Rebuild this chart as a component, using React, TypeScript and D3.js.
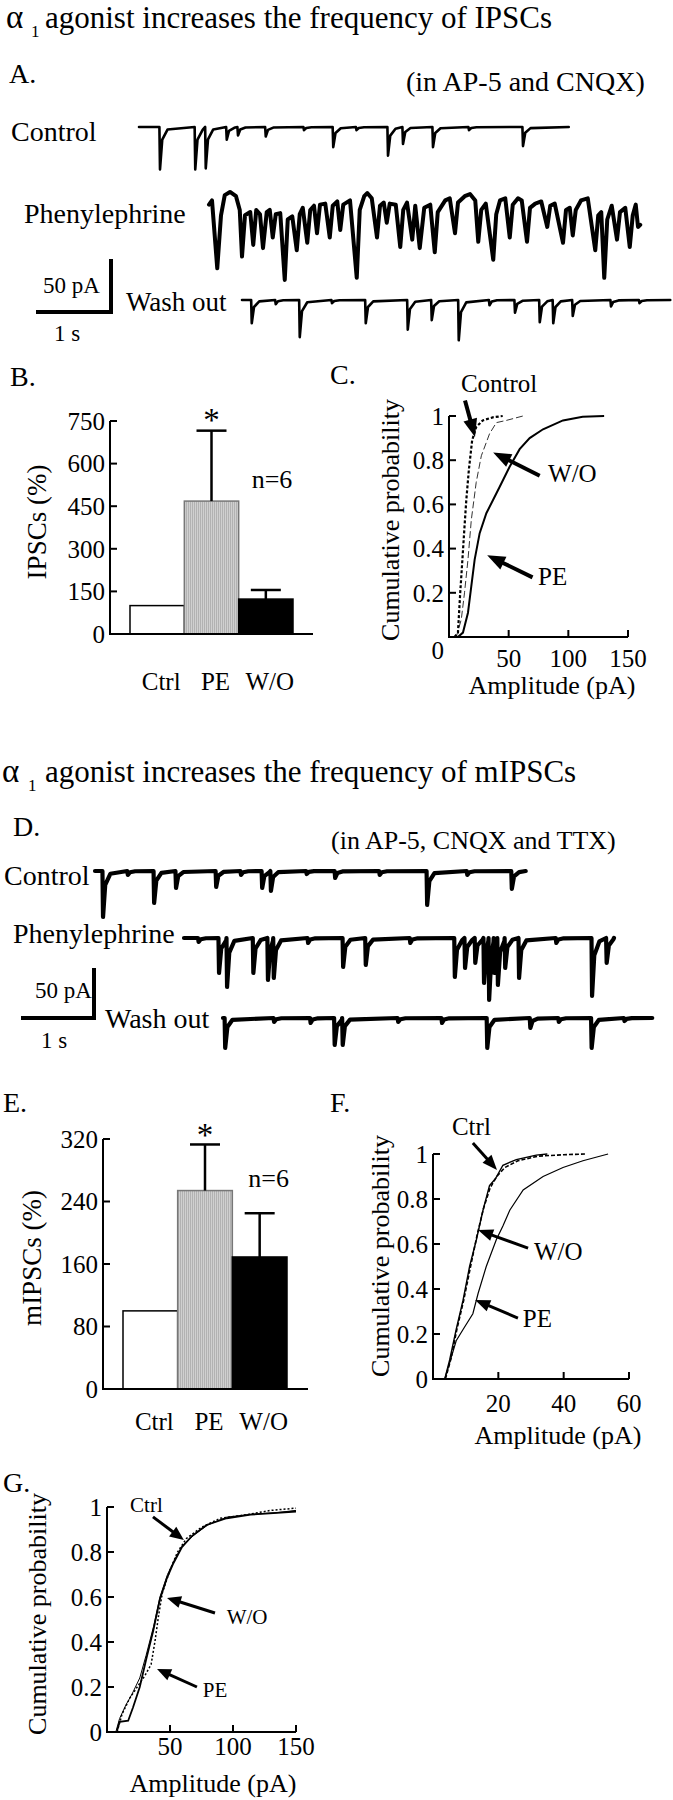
import React from 'react';
import * as d3 from 'd3';

const FONT = '"Liberation Serif", "Times New Roman", serif';

// ---------- Panel A traces: [time s, amplitude pA] ----------
const ctrlAEvents: [number, number][] = [
  [0.28, 40], [0.75, 40], [0.89, 39], [1.17, 12], [1.32, 8], [1.69, 9], [2.2, 3],
  [2.59, 19], [2.9, 3], [3.32, 27], [3.52, 16], [3.92, 19], [4.4, 3], [5.12, 18],
];
const ctrlAEnd = 5.73;

const peATrace: [number, number][] = [
  [0, -11], [0.04, -7], [0.11, -71], [0.16, -21], [0.21, -2], [0.28, 1], [0.36, -3], [0.41, -16],
  [0.44, -60], [0.48, -21], [0.55, -18], [0.59, -49], [0.63, -16], [0.68, -20], [0.72, -52],
  [0.77, -18], [0.81, -16], [0.85, -42], [0.89, -20], [0.95, -19], [1.01, -82], [1.05, -25],
  [1.11, -22], [1.17, -54], [1.21, -20], [1.25, -14], [1.31, -47], [1.35, -16], [1.4, -12],
  [1.44, -38], [1.48, -11], [1.55, -10], [1.61, -42], [1.65, -12], [1.71, -8], [1.75, -35],
  [1.79, -11], [1.88, -7], [1.97, -80], [2.01, -16], [2.07, -3], [2.11, 0], [2.17, -5],
  [2.24, -42], [2.28, -12], [2.33, -9], [2.37, -28], [2.41, -10], [2.49, -11], [2.55, -51],
  [2.59, -16], [2.64, -9], [2.71, -44], [2.75, -12], [2.81, -52], [2.87, -14], [2.95, -11],
  [3.01, -56], [3.05, -18], [3.15, -7], [3.21, -5], [3.28, -38], [3.32, -9], [3.41, -3],
  [3.48, -1], [3.55, -7], [3.59, -46], [3.63, -16], [3.69, -10], [3.79, -63], [3.83, -20],
  [3.88, -7], [3.95, -5], [4.01, -42], [4.05, -11], [4.12, -5], [4.17, -7], [4.24, -46],
  [4.28, -14], [4.35, -10], [4.43, -8], [4.51, -32], [4.55, -12], [4.61, -10], [4.72, -47],
  [4.76, -16], [4.81, -14], [4.85, -40], [4.89, -16], [4.96, -7], [5.05, -5], [5.15, -54],
  [5.19, -21], [5.23, -18], [5.27, -80], [5.31, -25], [5.37, -12], [5.44, -44], [5.48, -18],
  [5.55, -14], [5.61, -51], [5.65, -21], [5.69, -11], [5.72, -32], [5.75, -30],
];

const washAEvents: [number, number][] = [
  [0.13, 22], [0.45, 4], [0.77, 35], [1.2, 3], [1.65, 22], [2.21, 28], [2.53, 19], [2.89, 38],
  [3.3, 5], [3.64, 12], [3.97, 21], [4.15, 22], [4.41, 15], [4.92, 6], [5.3, 3],
];
const washAEnd = 5.71;

// ---------- Panel D traces ----------
const ctrlDEvents: [number, number][] = [
  [0.11, 46], [0.45, 4], [0.81, 32], [1.11, 17], [1.66, 16], [2.0, 4], [2.29, 17], [2.41, 20],
  [2.9, 3], [3.29, 7], [3.9, 4], [4.55, 34], [5.1, 4], [5.71, 18],
];
const ctrlDEnd = 5.9;

const peDEvents: [number, number][] = [
  [0.2, 4], [0.48, 35], [0.59, 49], [0.95, 35], [1.15, 42], [1.23, 40], [1.7, 5], [2.18, 29],
  [2.49, 27], [3.1, 5], [3.71, 39], [3.85, 30], [3.99, 25], [4.11, 45], [4.18, 62], [4.25, 35],
  [4.3, 47], [4.4, 30], [4.59, 40], [5.1, 5], [5.59, 58], [5.79, 25],
];
const peDEnd = 5.89;

const washDEvents: [number, number][] = [
  [0.03, 30], [0.7, 4], [1.2, 5], [1.53, 27], [1.64, 27], [2.4, 4], [3.0, 5], [3.62, 30],
  [4.21, 10], [4.6, 4], [5.05, 30], [5.5, 3],
];
const washDEnd = 5.88;

// ---------- Bar charts ----------
const categories = ['Ctrl', 'PE', 'W/O'];
const ipscMeans = [100, 468, 123];
const ipscErrs = [0, 248, 32];
const ipscTicks = [0, 150, 300, 450, 600, 750];

const mipscMeans = [100, 254, 169];
const mipscErrs = [0, 59, 56];
const mipscTicks = [0, 80, 160, 240, 320];

// ---------- Cumulative probability curves: [amplitude pA, probability] ----------
const cControl: [number, number][] = [
  [4.7, 0], [7.5, 0.02], [9.4, 0.2], [11.7, 0.39], [13, 0.5], [14.5, 0.62], [16.7, 0.76],
  [19.4, 0.89], [22.8, 0.95], [28.3, 0.98], [36.7, 0.994], [45, 1],
];
const cWashout: [number, number][] = [
  [6.1, 0], [10.3, 0.08], [13, 0.2], [15.9, 0.35], [18.7, 0.53], [22.8, 0.7], [27.1, 0.82],
  [34, 0.92], [39.7, 0.97], [48, 0.98], [62, 1],
];
const cPE: [number, number][] = [
  [7.5, 0], [11.7, 0.02], [15.9, 0.11], [18.7, 0.23], [21.5, 0.35], [25.7, 0.47], [31.3, 0.56],
  [36.9, 0.62], [42.5, 0.68], [50.8, 0.77], [59.2, 0.85], [67.6, 0.9], [78.8, 0.94],
  [95.5, 0.98], [112, 0.997], [130, 1],
];

const fCtrl: [number, number][] = [
  [3.6, 0], [5.1, 0.085], [7.1, 0.22], [9.2, 0.35], [11.2, 0.5], [13.3, 0.62], [15.3, 0.75],
  [17.3, 0.86], [19.1, 0.89], [21.4, 0.95], [25.5, 0.975], [31.6, 0.995], [35, 1],
];
const fWashout: [number, number][] = [
  [3.8, 0], [5.5, 0.09], [7.3, 0.22], [9.4, 0.35], [11.5, 0.5], [13.5, 0.64], [15.5, 0.76],
  [17.5, 0.85], [19.5, 0.9], [22, 0.94], [26, 0.97], [32, 0.99], [40, 0.997], [47, 1],
];
const fPE: [number, number][] = [
  [3.6, 0], [7.1, 0.17], [9.2, 0.22], [12.2, 0.29], [13.8, 0.38], [16.3, 0.5], [19.4, 0.62],
  [21.4, 0.68], [23.5, 0.75], [27.6, 0.84], [33.7, 0.9], [39.8, 0.94], [45.9, 0.97], [53.6, 1],
];

const gCtrl: [number, number][] = [
  [8, 0.007], [10, 0.045], [16.8, 0.05], [20.7, 0.11], [26, 0.2], [31.4, 0.33], [36.7, 0.45],
  [42, 0.59], [47.3, 0.68], [52.7, 0.75], [59.3, 0.82], [67.3, 0.87], [79, 0.92], [95, 0.95],
  [114, 0.966], [132, 0.973], [150, 0.98],
];
const gWashout: [number, number][] = [
  [7, 0], [10, 0.06], [15, 0.12], [20, 0.17], [26, 0.24], [31, 0.34], [37, 0.47], [42, 0.6],
  [48, 0.7], [54, 0.77], [60, 0.83], [70, 0.88], [80, 0.92], [95, 0.955], [115, 0.968],
  [135, 0.975], [150, 0.985],
];
const gPE: [number, number][] = [
  [8, 0], [12, 0.08], [18, 0.15], [24, 0.2], [30, 0.25], [35, 0.3], [38, 0.4], [41, 0.52],
  [44, 0.62], [50, 0.72], [56, 0.8], [63, 0.86], [75, 0.91], [90, 0.95], [110, 0.965],
  [130, 0.985], [150, 0.995],
];

const probTicks = [0, 0.2, 0.4, 0.6, 0.8, 1];
const probLabels = ['0', '0.2', '0.4', '0.6', '0.8', '1'];

// build a polyline from recorded events (fast drop, quick decay)
function eventTrace(events: [number, number][], end: number): [number, number][] {
  const pts: [number, number][] = [[0, 0]];
  events.forEach(([t, a], i) => {
    const next = i < events.length - 1 ? events[i + 1][0] : end;
    pts.push([t - 0.008, 0]);
    pts.push([t, -a]);
    const t1 = Math.min(t + 0.03, next - 0.014);
    if (t1 > t) pts.push([t1, -a * 0.3]);
    const t2 = Math.min(t + 0.1, next - 0.01);
    if (t2 > t1) pts.push([t2, -a * 0.06]);
  });
  pts.push([end, 0]);
  return pts;
}

function Trace({ x0, y0, pxPerS, pxPerPA, pts, w }: any) {
  const x = d3.scaleLinear().domain([0, 1]).range([x0, x0 + pxPerS]);
  const y = d3.scaleLinear().domain([0, -1]).range([y0, y0 + pxPerPA]);
  const line = d3.line<[number, number]>().x((d) => x(d[0])).y((d) => y(d[1]));
  return (
    <path d={line(pts) ?? ''} fill="none" stroke="#000" strokeWidth={w}
      strokeLinejoin="round" strokeLinecap="round" />
  );
}

function ScaleBar({ x, y, pxPerS, pxPerPA, size }: any) {
  const xs = d3.scaleLinear().domain([0, 1]).range([x - pxPerS, x]);
  const ys = d3.scaleLinear().domain([0, 50]).range([y, y - 50 * pxPerPA]);
  return (
    <path d={`M${xs(0)},${ys(0)} L${xs(1)},${ys(0)} L${xs(1)},${ys(50)}`}
      fill="none" stroke="#000" strokeWidth={size} />
  );
}

function Arrow({ x1, y1, x2, y2, w, head, hw }: any) {
  const dx = x2 - x1, dy = y2 - y1;
  const L = Math.hypot(dx, dy);
  const ux = dx / L, uy = dy / L;
  const bx = x2 - ux * head, by = y2 - uy * head;
  const px = -uy, py = ux;
  return (
    <g>
      <line x1={x1} y1={y1} x2={bx + ux} y2={by + uy} stroke="#000" strokeWidth={w} />
      <polygon points={`${x2},${y2} ${bx + px * hw},${by + py * hw} ${bx - px * hw},${by - py * hw}`} fill="#000" />
    </g>
  );
}

function BarPanel({ ax, xEnd, yZero, yTop, vMax, ticks, means, errs, band, catY, starBase,
  nVal, nDx, ylab, ylabX, ylabY }: any) {
  const y = d3.scaleLinear().domain([0, vMax]).range([yZero, yTop]);
  const x = d3.scaleBand<string>().domain(categories).range(band).padding(0);
  const bw = x.bandwidth();
  const fills = ['#fff', 'url(#stripe)', '#000'];
  const strokes = ['#000', '#777', '#000'];
  return (
    <g fontFamily={FONT}>
      {categories.map((c, i) => (
        <rect key={c} x={x(c)} y={y(means[i])} width={bw} height={yZero - y(means[i])}
          fill={fills[i]} stroke={strokes[i]} strokeWidth={1.5} />
      ))}
      {categories.map((c, i) =>
        errs[i] > 0 ? (
          <g key={c} stroke="#000" strokeWidth={2.5}>
            <line x1={x(c)! + bw / 2} x2={x(c)! + bw / 2} y1={y(means[i])} y2={y(means[i] + errs[i])} />
            <line x1={x(c)! + bw / 2 - 15} x2={x(c)! + bw / 2 + 15} y1={y(means[i] + errs[i])} y2={y(means[i] + errs[i])} />
          </g>
        ) : null
      )}
      <line x1={ax} x2={ax} y1={yZero + 1} y2={y(vMax)} stroke="#000" strokeWidth={2} />
      <line x1={ax} x2={xEnd} y1={yZero} y2={yZero} stroke="#000" strokeWidth={2} />
      {ticks.map((t: number) => (
        <g key={t}>
          <line x1={ax} x2={ax + 7} y1={y(t)} y2={y(t)} stroke="#000" strokeWidth={2} />
          <text x={ax - 5} y={y(t)} dy="0.35em" textAnchor="end" fontSize={25}>{t}</text>
        </g>
      ))}
      {categories.map((c) => (
        <text key={c} x={x(c)! + bw / 2 + 4} y={catY} textAnchor="middle" fontSize={25}>{c}</text>
      ))}
      <text x={x('PE')! + bw / 2} y={starBase} textAnchor="middle" fontSize={33}>*</text>
      <text x={x('W/O')! + nDx} y={y(nVal)} fontSize={26}>n=6</text>
      <text transform={`translate(${ylabX},${ylabY}) rotate(-90)`} textAnchor="middle" dy="0.35em" fontSize={27}>{ylab}</text>
    </g>
  );
}

function CumPanel({ x0, x1, y0, y1, xMax, xTicks, curves, notes, ylabX, ylabY, xlabX, xlabY,
  tickLabY, zeroDy = 0, noteSize, arrowW, head, hw }: any) {
  const x = d3.scaleLinear().domain([0, xMax]).range([x0, x1]);
  const y = d3.scaleLinear().domain([0, 1]).range([y0, y1]);
  const line = d3.line<[number, number]>().x((d) => x(d[0])).y((d) => y(d[1]));
  return (
    <g fontFamily={FONT}>
      {curves.map((c: any, i: number) => (
        <path key={i} d={line(c.pts) ?? ''} fill="none" stroke={c.color ?? '#000'}
          strokeWidth={c.w} strokeDasharray={c.dash} />
      ))}
      <line x1={x0} x2={x0} y1={y0 + 1} y2={y1} stroke="#000" strokeWidth={2} />
      <line x1={x0} x2={x1} y1={y0} y2={y0} stroke="#000" strokeWidth={2} />
      {probTicks.map((t, i) => (
        <g key={t}>
          <line x1={x0} x2={x0 + 7} y1={y(t)} y2={y(t)} stroke="#000" strokeWidth={2} />
          <text x={x0 - 5} y={y(t) + (t === 0 ? zeroDy : 0)} dy="0.35em" textAnchor="end" fontSize={25}>
            {probLabels[i]}
          </text>
        </g>
      ))}
      {xTicks.map((t: number) => (
        <g key={t}>
          <line x1={x(t)} x2={x(t)} y1={y0} y2={y0 - 7} stroke="#000" strokeWidth={2} />
          <text x={x(t)} y={tickLabY} textAnchor="middle" fontSize={25}>{t}</text>
        </g>
      ))}
      {notes.map((n: any) => (
        <g key={n.text}>
          <text x={x(n.at[0])} y={y(n.at[1])} fontSize={noteSize}>{n.text}</text>
          <Arrow x1={x(n.tail[0])} y1={y(n.tail[1])} x2={x(n.tip[0])} y2={y(n.tip[1])}
            w={arrowW} head={head} hw={hw} />
        </g>
      ))}
      <text transform={`translate(${ylabX},${ylabY}) rotate(-90)`} textAnchor="middle" dy="0.35em" fontSize={26}>
        Cumulative probability
      </text>
      <text x={xlabX} y={xlabY} textAnchor="middle" fontSize={26}>Amplitude (pA)</text>
    </g>
  );
}

export default function App() {
  return (
    <div style={{ position: 'absolute', left: 0, top: 0 }}>
      <svg width={673} height={1800} style={{ display: 'block', background: '#fff' }}>
        <defs>
          <pattern id="stripe" width={2} height={4} patternUnits="userSpaceOnUse">
            <rect width={2} height={4} fill="#d0d0d0" />
            <rect width={1} height={4} fill="#b2b2b2" />
          </pattern>
        </defs>
        <g fontFamily={FONT} fill="#000">
          {/* Title 1 */}
          <text x={6} y={28} fontSize={33}>α</text>
          <text x={31} y={37} fontSize={17}>1</text>
          <text x={45} y={28} fontSize={31}>agonist increases the frequency of IPSCs</text>

          {/* Panel A */}
          <text x={9} y={83} fontSize={28}>A.</text>
          <text x={406} y={91} fontSize={28}>(in AP-5 and CNQX)</text>
          <text x={11} y={141} fontSize={28}>Control</text>
          <text x={24} y={223} fontSize={28}>Phenylephrine</text>
          <text x={126} y={311} fontSize={27}>Wash out</text>
          <text x={43} y={293} fontSize={23}>50 pA</text>
          <text x={54} y={341} fontSize={23}>1 s</text>
        </g>
        <Trace x0={139} y0={127} pxPerS={75} pxPerPA={1.06} pts={eventTrace(ctrlAEvents, ctrlAEnd)} w={2.6} />
        <Trace x0={209} y0={193} pxPerS={75} pxPerPA={1.06} pts={peATrace} w={4} />
        <Trace x0={242} y0={300} pxPerS={75} pxPerPA={1.06} pts={eventTrace(washAEvents, washAEnd)} w={2.6} />
        <ScaleBar x={111} y={312} pxPerS={75} pxPerPA={1.06} size={4} />

        {/* Panel B */}
        <text x={10} y={386} fontSize={28} fontFamily={FONT}>B.</text>
        <BarPanel ax={110} xEnd={313} yZero={634} yTop={421} vMax={750} ticks={ipscTicks}
          means={ipscMeans} errs={ipscErrs} band={[130, 293]} catY={690} starBase={431}
          nVal={514} nDx={13} ylab="IPSCs (%)" ylabX={37} ylabY={522} />

        {/* Panel C */}
        <text x={330} y={384} fontSize={28} fontFamily={FONT}>C.</text>
        <CumPanel x0={449} x1={628} y0={637} y1={416} xMax={150} xTicks={[50, 100, 150]}
          curves={[
            { pts: cWashout, w: 1, dash: '7,3', color: '#333' },
            { pts: cControl, w: 2.2, dash: '3,2' },
            { pts: cPE, w: 2 },
          ]}
          notes={[
            { text: 'Control', at: [10, 1.109], tail: [13.4, 1.07], tip: [21.8, 0.905] },
            { text: 'W/O', at: [83, 0.7], tail: [76, 0.73], tip: [37, 0.835] },
            { text: 'PE', at: [74.6, 0.234], tail: [70, 0.27], tip: [32, 0.37] },
          ]}
          ylabX={390} ylabY={520} xlabX={552} xlabY={694} tickLabY={667} zeroDy={13}
          noteSize={25} arrowW={4} head={18} hw={7} />

        {/* Title 2 */}
        <g fontFamily={FONT}>
          <text x={2} y={782} fontSize={33}>α</text>
          <text x={28} y={791} fontSize={17}>1</text>
          <text x={45} y={782} fontSize={31}>agonist increases the frequency of mIPSCs</text>
          <text x={13} y={836} fontSize={28}>D.</text>
          <text x={331} y={849} fontSize={26}>(in AP-5, CNQX and TTX)</text>
          <text x={4} y={885} fontSize={28}>Control</text>
          <text x={13} y={943} fontSize={28}>Phenylephrine</text>
          <text x={105} y={1028} fontSize={28}>Wash out</text>
          <text x={35} y={998} fontSize={23}>50 pA</text>
          <text x={41} y={1048} fontSize={23}>1 s</text>
        </g>
        <Trace x0={95} y0={871} pxPerS={73} pxPerPA={1} pts={eventTrace(ctrlDEvents, ctrlDEnd)} w={4.2} />
        <Trace x0={184} y0={938} pxPerS={73} pxPerPA={1} pts={eventTrace(peDEvents, peDEnd)} w={4.2} />
        <Trace x0={223} y0={1018} pxPerS={73} pxPerPA={1} pts={eventTrace(washDEvents, washDEnd)} w={4.2} />
        <ScaleBar x={94} y={1018} pxPerS={73} pxPerPA={1} size={4} />

        {/* Panel E */}
        <text x={3} y={1112} fontSize={28} fontFamily={FONT}>E.</text>
        <BarPanel ax={103} xEnd={308} yZero={1389} yTop={1139} vMax={320} ticks={mipscTicks}
          means={mipscMeans} errs={mipscErrs} band={[123, 287]} catY={1430} starBase={1146}
          nVal={258} nDx={16} ylab="mIPSCs (%)" ylabX={32} ylabY={1258} />

        {/* Panel F */}
        <text x={330} y={1112} fontSize={28} fontFamily={FONT}>F.</text>
        <CumPanel x0={433} x1={629} y0={1379} y1={1154} xMax={60} xTicks={[20, 40, 60]}
          curves={[
            { pts: fWashout, w: 1.6, dash: '4,2' },
            { pts: fCtrl, w: 1.4 },
            { pts: fPE, w: 1.2 },
          ]}
          notes={[
            { text: 'Ctrl', at: [5.8, 1.084], tail: [12.2, 1.049], tip: [19.6, 0.929] },
            { text: 'W/O', at: [30.9, 0.529], tail: [29.1, 0.582], tip: [13.8, 0.662] },
            { text: 'PE', at: [27.5, 0.231], tail: [26, 0.271], tip: [12.9, 0.351] },
          ]}
          ylabX={380} ylabY={1256} xlabX={558} xlabY={1444} tickLabY={1412}
          noteSize={25} arrowW={3} head={15} hw={6} />

        {/* Panel G */}
        <text x={3} y={1492} fontSize={28} fontFamily={FONT}>G.</text>
        <CumPanel x0={107} x1={296} y0={1732} y1={1507} xMax={150} xTicks={[50, 100, 150]}
          curves={[
            { pts: gWashout, w: 1 },
            { pts: gPE, w: 1.5, dash: '2,2' },
            { pts: gCtrl, w: 1.8 },
          ]}
          notes={[
            { text: 'Ctrl', at: [18.3, 0.978], tail: [36.5, 0.956], tip: [61, 0.853] },
            { text: 'W/O', at: [95, 0.48], tail: [85.7, 0.529], tip: [47.6, 0.596] },
            { text: 'PE', at: [76, 0.156], tail: [71.4, 0.2], tip: [39.7, 0.28] },
          ]}
          ylabX={37} ylabY={1614} xlabX={213} xlabY={1792} tickLabY={1755}
          noteSize={21} arrowW={3} head={14} hw={6} />
      </svg>
    </div>
  );
}
